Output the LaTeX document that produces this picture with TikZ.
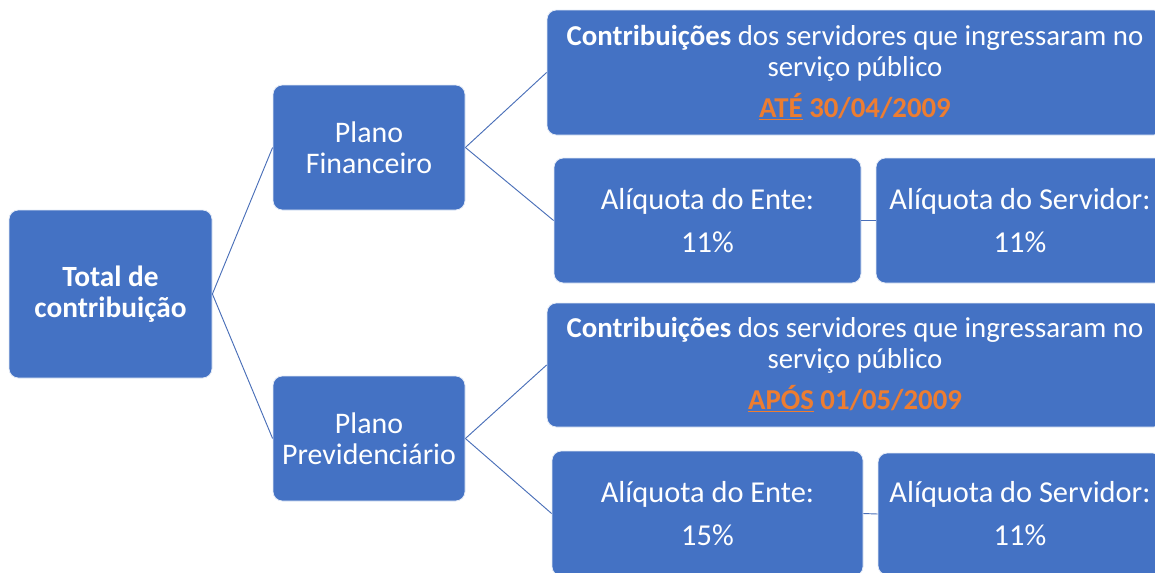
\documentclass[tikz,border=0pt]{standalone}
\usepackage{fontspec}
\setmainfont{Carlito}
\usepackage{tikz}
\definecolor{boxblue}{HTML}{4472C4}
\definecolor{linkblue}{HTML}{4A6FB8}
\definecolor{dateorange}{HTML}{ED7D31}
\tikzset{
  caixa/.style={rectangle, rounded corners=7pt, fill=boxblue, draw=white!85!boxblue, line width=0.6pt,
    text=white, align=center, font=\fontsize{22}{23.25}\selectfont, inner sep=0pt},
  aliquota/.style={caixa, font=\fontsize{22.8}{23.25}\selectfont},
  ingresso/.style={caixa, font=\fontsize{21.6}{23.25}\selectfont},
  ligacao/.style={draw=linkblue, line width=0.7pt}
}
\newcommand{\data}[2]{{\color{dateorange}\bfseries\underline{#1} #2}}

\begin{document}
\begin{tikzpicture}[x=0.75pt,y=-0.75pt]
            \useasboundingbox (0,0) rectangle (1155,572);
            \clip (0,0) rectangle (1155,572);

            \node[caixa, minimum width=152.25pt, minimum height=126pt] (total) at(110.5,294) {\bfseries Total de\\ \bfseries contribuição};

            \node[caixa, font=\fontsize{22.4}{23.25}\selectfont, minimum width=144pt, minimum height=93.75pt] (financeiro) at(369,147.5) {Plano\\ Financeiro};
            \node[caixa, font=\fontsize{22.4}{23.25}\selectfont, minimum width=144pt, minimum height=93.75pt] (previdenciario) at(369,438.5) {Plano\\ Previdenciário};

            \node[ingresso, minimum width=462pt, minimum height=93.75pt] (ate) at(855,72.5) {\textbf{Contribuições} dos servidores que ingressaram no\\ serviço público\\[7.5pt] \data{ATÉ}{30/04/2009}};
            \node[aliquota, minimum width=230.25pt, minimum height=93.75pt] (ente1) at(707.5,220.5) {Alíquota do Ente:\\[9pt] 11\%};
            \node[aliquota, minimum width=216pt, minimum height=93.75pt] (servidor1) at(1020,220.5) {Alíquota do Servidor:\\[9pt] 11\%};

            \node[ingresso, minimum width=462pt, minimum height=93pt] (apos) at(855,365) {\textbf{Contribuições} dos servidores que ingressaram no\\ serviço público\\[7.5pt] \data{APÓS}{01/05/2009}};
            \node[aliquota, minimum width=233.25pt, minimum height=93.75pt] (ente2) at(707.5,513.5) {Alíquota do Ente:\\[9pt] 15\%};
            \node[aliquota, minimum width=213pt, minimum height=91.5pt] (servidor2) at(1020,514) {Alíquota do Servidor:\\[9pt] 11\%};

            \draw[ligacao] (total.east) -- (financeiro.west);
            \draw[ligacao] (total.east) -- (previdenciario.west);
            \draw[ligacao] (financeiro.east) -- (ate.west);
            \draw[ligacao] (financeiro.east) -- (ente1.west);
            \draw[ligacao] (ente1.east) -- (servidor1.west);
            \draw[ligacao] (previdenciario.east) -- (apos.west);
            \draw[ligacao] (previdenciario.east) -- (ente2.west);
            \draw[ligacao] (ente2.east) -- (servidor2.west);
        \end{tikzpicture}
\end{document}
